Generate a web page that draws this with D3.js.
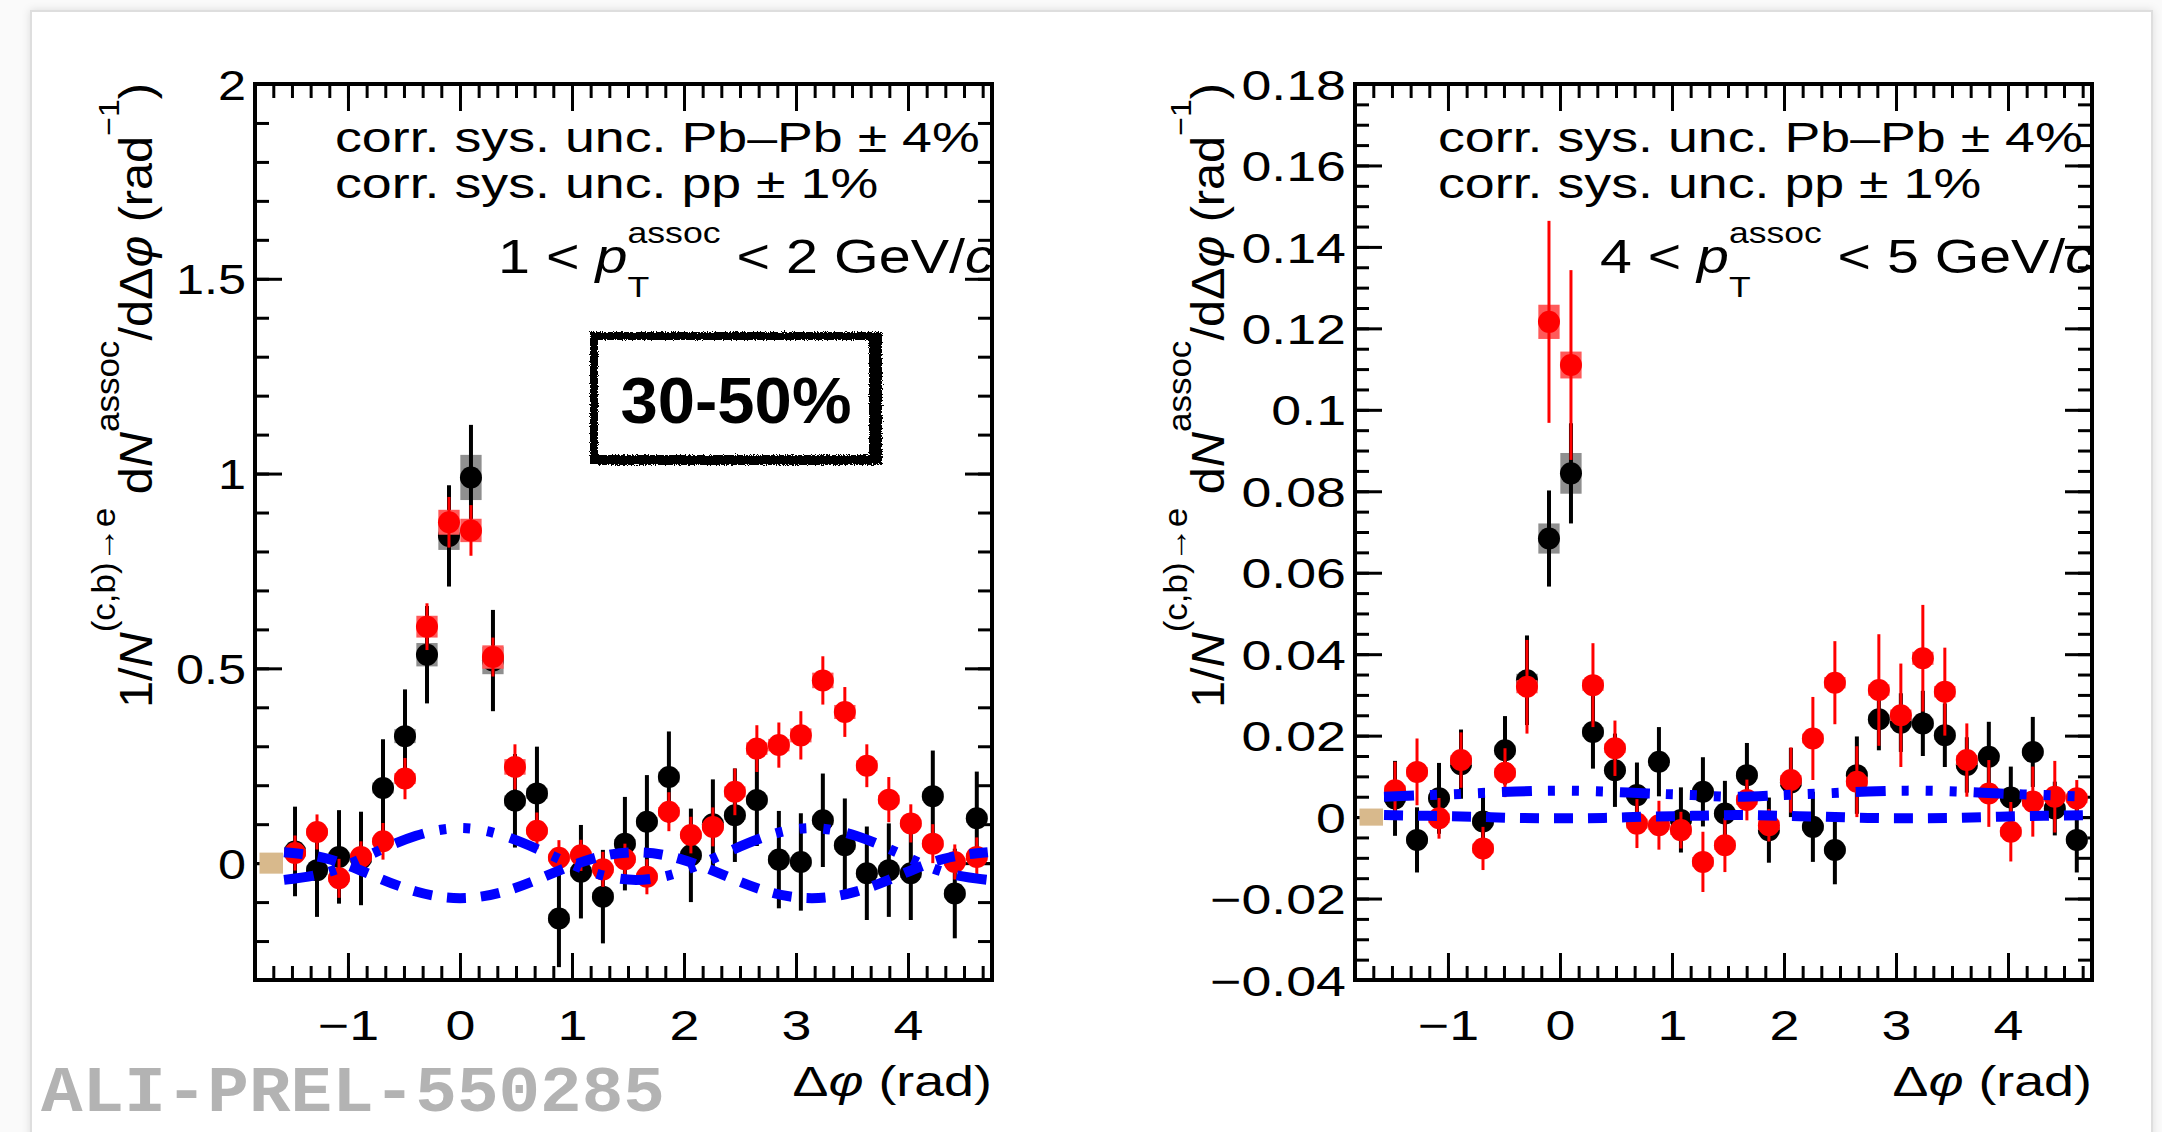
<!DOCTYPE html>
<html>
<head>
<meta charset="utf-8">
<script src="https://cdn.jsdelivr.net/npm/d3@7"></script>
<style>
  html, body { margin: 0; padding: 0; background: #ffffff; }
  svg { display: block; }
  text { font-family: "Liberation Sans", Arial, Helvetica, sans-serif; white-space: pre; }
</style>
</head>
<body>
<svg id="fig" width="2162" height="1132"></svg>
<script>
// ---------------------------------------------------------------
// Azimuthal correlation of heavy-flavour decay electrons with
// associated hadrons, 30-50% centrality: Pb-Pb (red) vs pp (black)
// ---------------------------------------------------------------

// 32 bins in dphi over [-pi/2, 3pi/2]
const nBins = 32;
const dphiBins = d3.range(nBins).map(i => -Math.PI / 2 + (i + 0.5) * Math.PI / 16);
const sysHalfWidth = 0.095;          // half width of systematic boxes (rad)

// ---- 1 < pT assoc < 2 GeV/c ----
const ppLowVal = [0.030, -0.018, 0.016, 0.012, 0.193, 0.326, 0.535, 0.840, 0.990, 0.520, 0.160, 0.179, -0.142, -0.022, -0.086, 0.050,
                  0.106, 0.221, 0.020, 0.100, 0.123, 0.162, 0.009, 0.003, 0.110, 0.046, -0.026, -0.018, -0.026, 0.172, -0.078, 0.115];
const ppLowErr = [0.115, 0.120, 0.120, 0.120, 0.125, 0.120, 0.125, 0.130, 0.135, 0.130, 0.120, 0.120, 0.125, 0.120, 0.120, 0.120,
                  0.120, 0.117, 0.120, 0.115, 0.120, 0.118, 0.125, 0.125, 0.120, 0.120, 0.120, 0.120, 0.120, 0.117, 0.115, 0.120];
const ppLowSys = [0.012, 0.012, 0.012, 0.012, 0.014, 0.018, 0.030, 0.036, 0.058, 0.035, 0.014, 0.014, 0.012, 0.012, 0.012, 0.012,
                  0.012, 0.014, 0.012, 0.012, 0.012, 0.012, 0.012, 0.012, 0.012, 0.012, 0.012, 0.012, 0.012, 0.012, 0.012, 0.012];
const pbLowVal = [0.026, 0.080, -0.039, 0.016, 0.056, 0.217, 0.607, 0.875, 0.854, 0.529, 0.247, 0.083, 0.014, 0.020, -0.016, 0.010,
                  -0.035, 0.132, 0.072, 0.093, 0.183, 0.294, 0.303, 0.328, 0.469, 0.388, 0.250, 0.163, 0.102, 0.050, 0.003, 0.016];
const pbLowErr = [0.045, 0.045, 0.050, 0.040, 0.047, 0.053, 0.060, 0.065, 0.065, 0.050, 0.058, 0.047, 0.045, 0.040, 0.045, 0.040,
                  0.045, 0.050, 0.047, 0.050, 0.060, 0.060, 0.058, 0.062, 0.062, 0.064, 0.055, 0.058, 0.049, 0.050, 0.045, 0.050];
const pbLowSys = [0.010, 0.010, 0.010, 0.010, 0.010, 0.014, 0.028, 0.032, 0.030, 0.030, 0.020, 0.010, 0.010, 0.010, 0.010, 0.010,
                  0.010, 0.012, 0.010, 0.010, 0.014, 0.016, 0.016, 0.018, 0.020, 0.018, 0.014, 0.012, 0.010, 0.010, 0.010, 0.010];

// ---- 4 < pT assoc < 5 GeV/c ----
const ppHighVal = [0.0046, -0.0056, 0.0046, 0.0130, -0.0011, 0.0164, 0.0336, 0.0684, 0.0844, 0.0209, 0.0115, 0.0054, 0.0136, -0.0007, 0.0062, 0.0009,
                   0.0103, -0.0032, 0.0085, -0.0024, -0.0081, 0.0103, 0.0240, 0.0232, 0.0230, 0.0201, 0.0128, 0.0148, 0.0048, 0.0160, 0.0021, -0.0056];
const ppHighErr = [0.0092, 0.0080, 0.0087, 0.0085, 0.0082, 0.0084, 0.0110, 0.0118, 0.0123, 0.0090, 0.0090, 0.0080, 0.0085, 0.0080, 0.0085, 0.0080,
                   0.0079, 0.0080, 0.0085, 0.0086, 0.0084, 0.0095, 0.0076, 0.0072, 0.0080, 0.0078, 0.0068, 0.0086, 0.0076, 0.0086, 0.0066, 0.0080];
const ppHighSys = [0.0010, 0.0010, 0.0010, 0.0010, 0.0010, 0.0012, 0.0016, 0.0037, 0.0050, 0.0012, 0.0010, 0.0010, 0.0010, 0.0010, 0.0010, 0.0010,
                   0.0010, 0.0010, 0.0010, 0.0010, 0.0010, 0.0010, 0.0012, 0.0012, 0.0012, 0.0012, 0.0010, 0.0010, 0.0010, 0.0010, 0.0010, 0.0010];
const pbHighVal = [0.0066, 0.0111, -0.0003, 0.0140, -0.0077, 0.0109, 0.0320, 0.1216, 0.1110, 0.0324, 0.0169, -0.0016, -0.0020, -0.0032, -0.0110, -0.0069,
                   0.0042, -0.0020, 0.0091, 0.0193, 0.0330, 0.0087, 0.0312, 0.0250, 0.0390, 0.0308, 0.0140, 0.0058, -0.0036, 0.0038, 0.0050, 0.0046];
const pbHighErr = [0.0070, 0.0082, 0.0050, 0.0068, 0.0053, 0.0060, 0.0115, 0.0248, 0.0233, 0.0103, 0.0068, 0.0060, 0.0060, 0.0045, 0.0074, 0.0066,
                   0.0050, 0.0040, 0.0080, 0.0102, 0.0102, 0.0087, 0.0137, 0.0127, 0.0131, 0.0108, 0.0090, 0.0082, 0.0073, 0.0086, 0.0088, 0.0045];
const pbHighSys = [0.0012, 0.0012, 0.0012, 0.0012, 0.0012, 0.0012, 0.0016, 0.0042, 0.0033, 0.0014, 0.0012, 0.0012, 0.0012, 0.0012, 0.0012, 0.0012,
                   0.0012, 0.0012, 0.0012, 0.0012, 0.0014, 0.0012, 0.0014, 0.0014, 0.0016, 0.0014, 0.0012, 0.0012, 0.0012, 0.0012, 0.0012, 0.0012];

// flow-modulation bounds, sampled every pi/8 from -pi/2 to 3pi/2
const flowPhi = d3.range(17).map(j => -Math.PI / 2 + j * Math.PI / 8);
const lowFlowUpper  = [-0.043, -0.023, 0.024, 0.070, 0.090, 0.070, 0.024, -0.023, -0.043, -0.023, 0.024, 0.070, 0.090, 0.070, 0.024, -0.023, -0.043];
const lowFlowLower  = [0.028, 0.011, -0.031, -0.073, -0.090, -0.073, -0.031, 0.011, 0.028, 0.011, -0.031, -0.073, -0.090, -0.073, -0.031, 0.011, 0.028];
const highFlowUpper = [0.0050, 0.0054, 0.0058, 0.0063, 0.0065, 0.0063, 0.0058, 0.0054, 0.0050, 0.0054, 0.0058, 0.0063, 0.0065, 0.0063, 0.0058, 0.0054, 0.0050];
const highFlowLower = [0.0005, 0.0003, 0.0001, -0.0002, -0.0003, -0.0002, 0.0001, 0.0003, 0.0005, 0.0003, 0.0001, -0.0002, -0.0003, -0.0002, 0.0001, 0.0003, 0.0005];

// correlated systematic band drawn at the left edge
const corrBoxPhi = [-1.79, -1.58];
const lowCorrHalf = 0.027;
const highCorrHalf = 0.0021;

// axes
const xDomain = [-1.83, 4.75];
const xTicks = [-1, 0, 1, 2, 3, 4];
const xMinorTicks = d3.range(-10, 29).map(k => k / 6);
const lowYTicks = [0, 0.5, 1, 1.5, 2];
const lowYMinor = d3.range(-3, 21).map(k => k / 10);
const highYTicks = [-0.04, -0.02, 0, 0.02, 0.04, 0.06, 0.08, 0.1, 0.12, 0.14, 0.16, 0.18];
const highYMinor = d3.range(-8, 37).map(k => k / 200);

// ---------------------------------------------------------------
const W = 2162, H = 1132;
const SX = 1.28;            // horizontal text stretch
const FS = 42;              // main font size
const svg = d3.select("#fig");
const defs = svg.append("defs");

const shadow = defs.append("filter").attr("id", "cardShadow").attr("x", "-5%").attr("y", "-5%").attr("width", "110%").attr("height", "110%");
shadow.append("feDropShadow").attr("dx", 0).attr("dy", 0).attr("stdDeviation", 4).attr("flood-color", "#000").attr("flood-opacity", 0.12);

const rough = defs.append("filter").attr("id", "rough");
rough.append("feTurbulence").attr("type", "fractalNoise").attr("baseFrequency", 0.9).attr("numOctaves", 2).attr("result", "noise");
rough.append("feDisplacementMap").attr("in", "SourceGraphic").attr("in2", "noise").attr("scale", 5);

svg.append("rect").attr("width", W).attr("height", H).attr("fill", "#fafafa");
svg.append("rect").attr("x", 31).attr("y", 11).attr("width", 2121).attr("height", 1140)
   .attr("fill", "#ffffff").attr("stroke", "#dedede").attr("stroke-width", 2).attr("filter", "url(#cardShadow)");

// rich text: parts {t, it, scale, shift (em, + down), dx (em)}
function richText(parent, parts, size, style) {
  const t = parent.append("text").attr("font-size", size);
  if (style) Object.entries(style).forEach(([k, v]) => t.style(k, v));
  let prev = 0;
  parts.forEach(p => {
    const sh = (p.shift || 0) * size;
    const ts = t.append("tspan").text(p.t).attr("dy", sh - prev);
    prev = sh;
    if (p.scale) ts.attr("font-size", size * p.scale);
    if (p.it) ts.style("font-style", "italic");
    if (p.dx) ts.attr("dx", p.dx * size);
  });
  return t;
}

function place(t, o) {
  const bb = t.node().getBBox();
  const s = o.width ? o.width / bb.width : (o.sx || SX);
  const anchor = o.anchor || "start";
  const off = anchor === "start" ? bb.x : anchor === "end" ? bb.x + bb.width : bb.x + bb.width / 2;
  t.attr("transform", `translate(${o.x - off * s},${o.y}) scale(${s},1)`);
  return t;
}

// rotated (bottom-to-top) text whose end sits at (x, y)
function placeVertical(t, o) {
  const bb = t.node().getBBox();
  const s = o.length ? o.length / bb.width : 1;
  const off = bb.x + bb.width;
  t.attr("transform", `translate(${o.x},${o.y}) scale(${o.hs},1) rotate(-90) scale(${s},1) translate(${-off},0)`);
  return t;
}

const fmt = d => String(d).replace("-", "\u2212");

function drawPanel(p) {
  const x = d3.scaleLinear().domain(xDomain).range([p.left, p.right]);
  const y = d3.scaleLinear().domain(p.yDomain).range([p.bottom, p.top]);
  const g = svg.append("g");

  const clipId = "clip-" + p.id;
  defs.append("clipPath").attr("id", clipId).append("rect")
      .attr("x", p.left).attr("y", p.top).attr("width", p.right - p.left).attr("height", p.bottom - p.top);

  // ticks (inward, mirrored on all four sides)
  const axisStyle = sel => {
    sel.select(".domain").remove();
    sel.selectAll(".tick line").attr("stroke", "#000").attr("stroke-width", 3);
  };
  const xMinor = xMinorTicks.filter(v => v > xDomain[0] && v < xDomain[1]);
  g.append("g").attr("transform", `translate(0,${p.bottom})`)
    .call(d3.axisBottom(x).tickValues(xMinor).tickSize(-14).tickFormat(""))
    .call(axisStyle);
  g.append("g").attr("transform", `translate(0,${p.top})`)
    .call(d3.axisTop(x).tickValues(xMinor).tickSize(-14).tickFormat(""))
    .call(axisStyle);
  g.append("g").attr("transform", `translate(0,${p.top})`)
    .call(d3.axisTop(x).tickValues(xTicks).tickSize(-27).tickFormat(""))
    .call(axisStyle);
  const xb = g.append("g").attr("transform", `translate(0,${p.bottom})`)
    .call(d3.axisBottom(x).tickValues(xTicks).tickSize(-27).tickFormat(fmt))
    .call(axisStyle);
  xb.selectAll(".tick text")
    .attr("fill", "#000").attr("font-size", FS).attr("font-family", null)
    .attr("y", 60).attr("dy", null).attr("text-anchor", "middle")
    .attr("transform", `scale(${SX},1)`);

  g.append("g").attr("transform", `translate(${p.left},0)`)
    .call(d3.axisLeft(y).tickValues(p.yMinor).tickSize(-14).tickFormat(""))
    .call(axisStyle);
  g.append("g").attr("transform", `translate(${p.right},0)`)
    .call(d3.axisRight(y).tickValues(p.yMinor).tickSize(-14).tickFormat(""))
    .call(axisStyle);
  g.append("g").attr("transform", `translate(${p.right},0)`)
    .call(d3.axisRight(y).tickValues(p.yTicks).tickSize(-27).tickFormat(""))
    .call(axisStyle);
  const yl = g.append("g").attr("transform", `translate(${p.left},0)`)
    .call(d3.axisLeft(y).tickValues(p.yTicks).tickSize(-27).tickFormat(fmt))
    .call(axisStyle);
  yl.selectAll(".tick text")
    .attr("fill", "#000").attr("font-size", FS).attr("font-family", null)
    .attr("x", -9 / p.labelSx).attr("dy", "0.36em").attr("text-anchor", "end")
    .attr("transform", `scale(${p.labelSx},1)`);

  const plot = g.append("g").attr("clip-path", `url(#${clipId})`);

  // correlated systematic band
  plot.append("rect")
    .attr("x", x(corrBoxPhi[0])).attr("width", x(corrBoxPhi[1]) - x(corrBoxPhi[0]))
    .attr("y", y(p.corrHalf)).attr("height", y(-p.corrHalf) - y(p.corrHalf))
    .attr("fill", "#d8b98c");

  // data series
  p.series.forEach(s => {
    const pts = s.val.map((v, i) => ({ phi: dphiBins[i], v, e: s.err[i], sys: s.sys[i] }));
    const sg = plot.append("g");
    sg.selectAll("rect").data(pts).join("rect")
      .attr("x", d => x(d.phi - sysHalfWidth)).attr("width", d => x(d.phi + sysHalfWidth) - x(d.phi - sysHalfWidth))
      .attr("y", d => y(d.v + d.sys)).attr("height", d => y(d.v - d.sys) - y(d.v + d.sys))
      .attr("fill", s.boxColor);
    sg.selectAll("line").data(pts).join("line")
      .attr("x1", d => x(d.phi)).attr("x2", d => x(d.phi))
      .attr("y1", d => y(d.v - d.e)).attr("y2", d => y(d.v + d.e))
      .attr("stroke", s.color).attr("stroke-width", s.lineWidth);
    sg.selectAll("circle").data(pts).join("circle")
      .attr("cx", d => x(d.phi)).attr("cy", d => y(d.v)).attr("r", 11)
      .attr("fill", s.color);
  });

  // flow-modulation bounds
  const line = d3.line().x(d => x(d[0])).y(d => y(d[1])).curve(d3.curveNatural);
  plot.append("path").datum(d3.zip(flowPhi, p.flowUpper)).attr("d", line)
    .attr("fill", "none").attr("stroke", "#0000ff").attr("stroke-width", 10)
    .attr("stroke-dasharray", "30,16,7,17,7,17,7,17");
  plot.append("path").datum(d3.zip(flowPhi, p.flowLower)).attr("d", line)
    .attr("fill", "none").attr("stroke", "#0000ff").attr("stroke-width", 10)
    .attr("stroke-dasharray", "19,15");

  // frame
  g.append("rect").attr("x", p.left).attr("y", p.top)
    .attr("width", p.right - p.left).attr("height", p.bottom - p.top)
    .attr("fill", "none").attr("stroke", "#000").attr("stroke-width", 4);

  // annotations
  place(richText(g, [{ t: "corr. sys. unc. Pb\u2013Pb \u00b1 4%" }], FS), { x: p.textLeft, y: 152 });
  place(richText(g, [{ t: "corr. sys. unc. pp \u00b1 1%" }], FS), { x: p.textLeft, y: 198 });
  place(richText(g, [
    { t: p.ptLo + " < " }, { t: "p", it: true },
    { t: "T", scale: 0.62, shift: 0.5 },
    { t: "assoc", scale: 0.62, shift: -0.62, dx: -0.62 * 0.611 },
    { t: " < " + p.ptHi + " GeV/" }, { t: "c", it: true }
  ], 48), { x: p.right - 2, y: 273, anchor: "end", width: p.ptWidth });

  place(richText(g, [{ t: "\u0394" }, { t: "\u03c6", it: true }, { t: " (rad)" }], FS), { x: p.right, y: 1096, anchor: "end" });

  placeVertical(richText(g, [
    { t: "1/" }, { t: "N", it: true },
    { t: "(c,b)\u2192e", scale: 0.72, shift: -0.8 },
    { t: " d" }, { t: "N", it: true },
    { t: "assoc", scale: 0.72, shift: -0.72 },
    { t: "/d\u0394" }, { t: "\u03c6", it: true }, { t: " (rad" },
    { t: "\u22121", scale: 0.66, shift: -0.72 },
    { t: ")" }
  ], 50), { x: p.titleX, y: 83, length: 625, hs: 0.92 });
}

drawPanel({
  id: "low", left: 255, right: 992, top: 84, bottom: 980,
  yDomain: [-0.3, 2], yTicks: lowYTicks, yMinor: lowYMinor, labelSx: 1.2,
  corrHalf: lowCorrHalf, flowUpper: lowFlowUpper, flowLower: lowFlowLower,
  textLeft: 335, ptLo: "1", ptHi: "2", ptWidth: 492, titleX: 152,
  series: [
    { val: ppLowVal, err: ppLowErr, sys: ppLowSys, color: "#000000", boxColor: "#8f8f8f", lineWidth: 4 },
    { val: pbLowVal, err: pbLowErr, sys: pbLowSys, color: "#ff0000", boxColor: "#ff5a5a", lineWidth: 3 }
  ]
});

drawPanel({
  id: "high", left: 1355, right: 2092, top: 84, bottom: 980,
  yDomain: [-0.04, 0.18], yTicks: highYTicks, yMinor: highYMinor, labelSx: 1.28,
  corrHalf: highCorrHalf, flowUpper: highFlowUpper, flowLower: highFlowLower,
  textLeft: 1438, ptLo: "4", ptHi: "5", ptWidth: 490, titleX: 1224,
  series: [
    { val: ppHighVal, err: ppHighErr, sys: ppHighSys, color: "#000000", boxColor: "#8f8f8f", lineWidth: 4 },
    { val: pbHighVal, err: pbHighErr, sys: pbHighSys, color: "#ff0000", boxColor: "#ff5a5a", lineWidth: 3 }
  ]
});

// centrality tag
const tag = svg.append("g");
tag.append("rect").attr("x", 594).attr("y", 336).attr("width", 284).attr("height", 124)
   .attr("fill", "#fff").attr("stroke", "#000").attr("stroke-width", 8).attr("filter", "url(#rough)");
tag.append("path").attr("d", "M 874 340 L 874 460 L 598 460")
   .attr("fill", "none").attr("stroke", "#000").attr("stroke-width", 10).attr("filter", "url(#rough)");
place(richText(tag, [{ t: "30-50%" }], 64, { "font-weight": "bold" }), { x: 736, y: 423, anchor: "middle", width: 231 });

// preliminary label
place(richText(svg, [{ t: "ALI-PREL-550285" }], 64,
      { "font-family": "'Liberation Mono', 'Courier New', monospace", "font-weight": "bold", "fill": "#b3b3b3" }),
      { x: 41, y: 1111, width: 624 });
</script>
</body>
</html>
